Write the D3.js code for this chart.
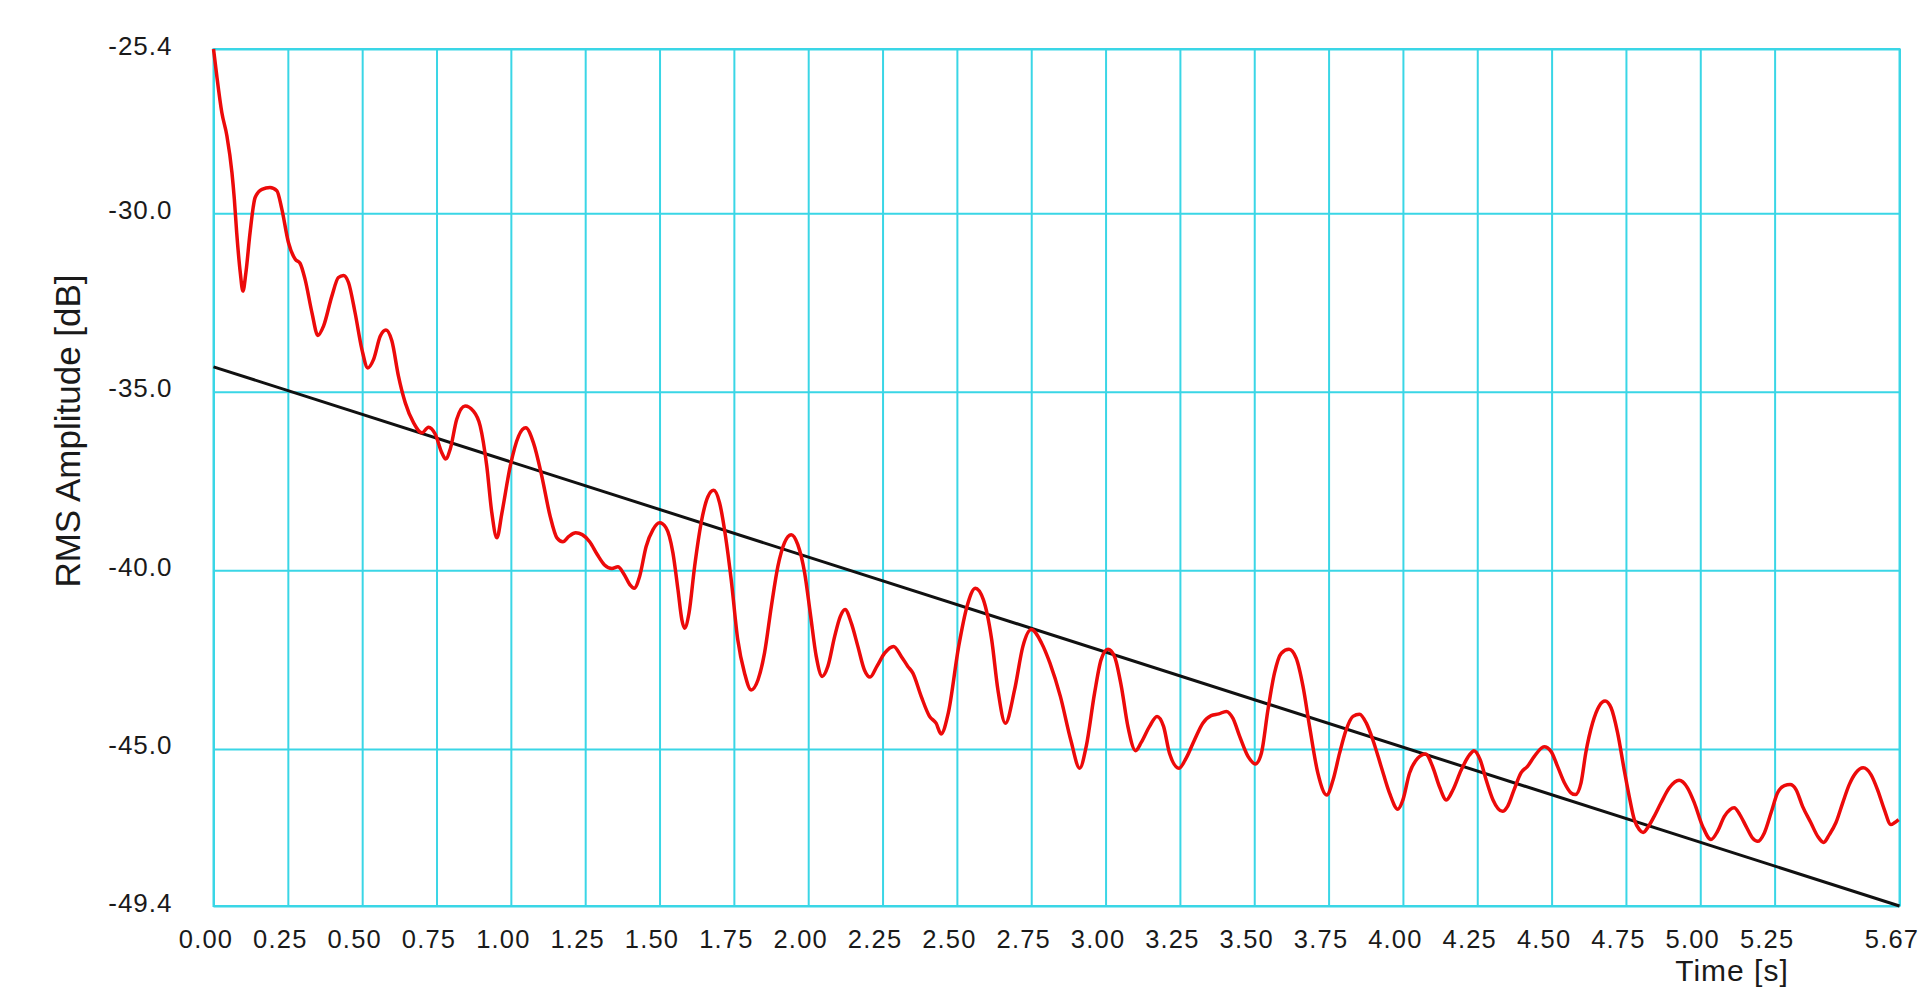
<!DOCTYPE html>
<html>
<head>
<meta charset="utf-8">
<script src="https://cdn.jsdelivr.net/npm/d3@7"></script>
<style>
  html, body { margin: 0; padding: 0; background: #fff; }
  svg text { font-family: "Liberation Sans", Arial, sans-serif; fill: #1a1a1a; }
</style>
</head>
<body>
<svg id="chart" width="1924" height="988"></svg>
<script>
// ─── data ────────────────────────────────────────────────────────────────────

// time axis (s) and RMS amplitude (dB)
const timeS = [
  0.000, 0.011, 0.028, 0.045, 0.062, 0.070, 0.078, 0.090, 0.099, 0.109,
  0.123, 0.140, 0.163, 0.190, 0.213, 0.230, 0.252, 0.275, 0.291, 0.308,
  0.331, 0.351, 0.370, 0.398, 0.420, 0.437, 0.454, 0.476, 0.499, 0.519,
  0.538, 0.561, 0.580, 0.600, 0.622, 0.645, 0.673, 0.701, 0.723, 0.746,
  0.768, 0.781, 0.796, 0.818, 0.846, 0.874, 0.897, 0.919, 0.936, 0.953,
  0.970, 0.998, 1.026, 1.050, 1.076, 1.104, 1.132, 1.155, 1.175, 1.195,
  1.218, 1.240, 1.265, 1.290, 1.315, 1.340, 1.360, 1.380, 1.400, 1.415,
  1.433, 1.455, 1.478, 1.500, 1.522, 1.545, 1.562, 1.575, 1.584, 1.599,
  1.618, 1.640, 1.663, 1.682, 1.702, 1.722, 1.741, 1.763, 1.786, 1.808,
  1.831, 1.853, 1.876, 1.898, 1.920, 1.943, 1.965, 1.988, 2.007, 2.027,
  2.047, 2.066, 2.089, 2.108, 2.124, 2.145, 2.167, 2.189, 2.208, 2.231,
  2.257, 2.287, 2.313, 2.335, 2.352, 2.380, 2.408, 2.430, 2.447, 2.471,
  2.506, 2.534, 2.562, 2.589, 2.617, 2.638, 2.663, 2.694, 2.722, 2.750,
  2.785, 2.813, 2.848, 2.883, 2.913, 2.935, 2.963, 2.985, 3.008, 3.030,
  3.053, 3.075, 3.101, 3.120, 3.148, 3.173, 3.195, 3.215, 3.247, 3.271,
  3.299, 3.327, 3.355, 3.381, 3.406, 3.428, 3.451, 3.479, 3.504, 3.524,
  3.546, 3.568, 3.591, 3.617, 3.641, 3.664, 3.686, 3.714, 3.744, 3.765,
  3.787, 3.809, 3.832, 3.854, 3.877, 3.899, 3.927, 3.955, 3.983, 4.000,
  4.022, 4.050, 4.076, 4.100, 4.123, 4.146, 4.168, 4.196, 4.224, 4.239,
  4.260, 4.280, 4.303, 4.335, 4.352, 4.374, 4.397, 4.419, 4.442, 4.475,
  4.498, 4.520, 4.543, 4.565, 4.580, 4.599, 4.615, 4.638, 4.660, 4.680,
  4.700, 4.722, 4.744, 4.761, 4.778, 4.795, 4.808, 4.826, 4.845, 4.868,
  4.896, 4.929, 4.957, 4.980, 5.008, 5.036, 5.058, 5.081, 5.100, 5.114,
  5.133, 5.154, 5.176, 5.193, 5.215, 5.238, 5.260, 5.283, 5.302, 5.322,
  5.344, 5.372, 5.395, 5.415, 5.434, 5.456, 5.479, 5.501, 5.523, 5.548,
  5.574, 5.596, 5.619, 5.641, 5.653, 5.667
];
const rmsDb = [
  -25.40, -26.15, -27.18, -27.83, -28.86, -29.60, -30.54, -31.66, -32.18, -31.66,
  -30.54, -29.56, -29.33, -29.28, -29.37, -29.89, -30.82, -31.29, -31.40, -31.85,
  -32.78, -33.42, -33.16, -32.32, -31.80, -31.74, -31.94, -32.78, -33.81, -34.33,
  -34.10, -33.44, -33.27, -33.58, -34.56, -35.31, -35.87, -36.15, -35.99, -36.19,
  -36.71, -36.88, -36.61, -35.77, -35.40, -35.54, -35.96, -37.08, -38.39, -39.09,
  -38.39, -37.08, -36.24, -36.01, -36.43, -37.36, -38.48, -39.09, -39.20, -39.05,
  -38.95, -39.00, -39.20, -39.55, -39.85, -39.95, -39.90, -40.10, -40.40, -40.50,
  -40.17, -39.33, -38.86, -38.67, -38.81, -39.51, -40.54, -41.38, -41.62, -41.20,
  -39.89, -38.67, -37.93, -37.76, -38.11, -39.05, -40.26, -41.94, -42.88, -43.35,
  -43.07, -42.32, -41.01, -39.89, -39.23, -39.00, -39.28, -40.07, -41.20, -42.41,
  -42.97, -42.69, -41.85, -41.29, -41.10, -41.48, -42.13, -42.79, -42.99, -42.69,
  -42.32, -42.13, -42.41, -42.69, -42.88, -43.53, -44.09, -44.28, -44.58, -44.00,
  -42.13, -41.01, -40.50, -40.82, -41.94, -43.35, -44.28, -43.35, -42.13, -41.66,
  -42.04, -42.60, -43.53, -44.75, -45.54, -44.93, -43.44, -42.50, -42.21, -42.41,
  -43.25, -44.37, -45.05, -44.82, -44.37, -44.09, -44.37, -45.12, -45.54, -45.26,
  -44.75, -44.28, -44.07, -44.02, -43.95, -44.14, -44.65, -45.21, -45.42, -45.12,
  -43.91, -42.88, -42.32, -42.21, -42.46, -43.25, -44.37, -45.68, -46.29, -45.87,
  -45.12, -44.47, -44.09, -44.03, -44.28, -44.75, -45.50, -46.24, -46.69, -46.43,
  -45.68, -45.26, -45.14, -45.50, -46.06, -46.43, -46.15, -45.59, -45.17, -45.05,
  -45.31, -45.87, -46.43, -46.75, -46.61, -46.14, -45.67, -45.49, -45.21, -44.94,
  -45.07, -45.49, -45.95, -46.23, -46.28, -45.95, -45.11, -44.27, -43.80, -43.66,
  -43.85, -44.55, -45.58, -46.33, -46.98, -47.26, -47.34, -47.17, -46.89, -46.51,
  -46.09, -45.88, -46.09, -46.51, -47.17, -47.54, -47.31, -46.89, -46.70, -46.65,
  -46.84, -47.17, -47.50, -47.59, -47.36, -46.79, -46.23, -46.03, -46.00, -46.14,
  -46.61, -47.07, -47.45, -47.62, -47.40, -47.07, -46.51, -46.00, -45.67, -45.53,
  -45.72, -46.14, -46.70, -47.12, -47.07, -46.98
];

// linear decay fit, end points
const fitTimeS = [0, 5.67];
const fitDb = [-34.3, -49.4];

// axis ticks
const xTicks = [0, 0.25, 0.5, 0.75, 1, 1.25, 1.5, 1.75, 2, 2.25, 2.5, 2.75,
  3, 3.25, 3.5, 3.75, 4, 4.25, 4.5, 4.75, 5, 5.25, 5.67];
const yTicks = [-25.4, -30, -35, -40, -45, -49.4];
const xTitle = 'Time [s]';
const yTitle = 'RMS Amplitude [dB]';

// ─── layout ──────────────────────────────────────────────────────────────────

const MARGIN = { top: 49, left: 213.5 };
const iw = 1686;
const ih = 857;
const GRID = '#3ad6e6';

const svg = d3.select('#chart');
const g = svg.append('g').attr('transform', `translate(${MARGIN.left},${MARGIN.top})`);

const x = d3.scaleLinear().domain([0, 5.67]).range([0, iw]);
const y = d3.scaleLinear().domain([-49.4, -25.4]).range([ih, 0]);

// grid + tick labels through the axes
const xAxis = g.append('g')
  .attr('transform', `translate(0,${ih})`)
  .call(d3.axisBottom(x).tickValues(xTicks).tickSize(-ih).tickFormat((d) => d.toFixed(2)));
xAxis.select('.domain').remove();
xAxis.selectAll('line').attr('stroke', GRID).attr('stroke-width', 2);
xAxis.selectAll('text')
  .attr('y', 42).attr('dy', null).attr('dx', -8)
  .attr('font-size', 25.5).style('letter-spacing', '1.2px');

const yAxis = g.append('g')
  .call(d3.axisLeft(y).tickValues(yTicks).tickSize(-iw).tickFormat((d) => d.toFixed(1)));
yAxis.select('.domain').remove();
yAxis.selectAll('line').attr('stroke', GRID).attr('stroke-width', 2);
yAxis.selectAll('text')
  .attr('x', -41).attr('dy', null).attr('y', 5)
  .attr('font-size', 26).style('letter-spacing', '1px');

svg.selectAll('.tick text').attr('fill', '#1a1a1a').attr('font-family', '"Liberation Sans", Arial, sans-serif');

g.append('rect')
  .attr('width', iw).attr('height', ih)
  .attr('fill', 'none').attr('stroke', GRID).attr('stroke-width', 2);

// fit line
g.append('path')
  .datum(fitTimeS.map((t, i) => [t, fitDb[i]]))
  .attr('fill', 'none')
  .attr('stroke', '#111')
  .attr('stroke-width', 3)
  .attr('d', d3.line().x((d) => x(d[0])).y((d) => y(d[1])));

// RMS trace
g.append('path')
  .datum(timeS.map((t, i) => [t, rmsDb[i]]))
  .attr('fill', 'none')
  .attr('stroke', '#ec0a0a')
  .attr('stroke-width', 3.5)
  .attr('stroke-linejoin', 'round')
  .attr('d', d3.line().curve(d3.curveMonotoneX).x((d) => x(d[0])).y((d) => y(d[1])));

// axis titles
svg.append('text')
  .attr('x', 1732).attr('y', 981)
  .attr('text-anchor', 'middle')
  .attr('font-size', 30)
  .style('letter-spacing', '1px')
  .text(xTitle);

svg.append('text')
  .attr('transform', 'translate(80,431) rotate(-90)')
  .attr('text-anchor', 'middle')
  .attr('font-size', 35)
  .text(yTitle);
</script>
</body>
</html>
